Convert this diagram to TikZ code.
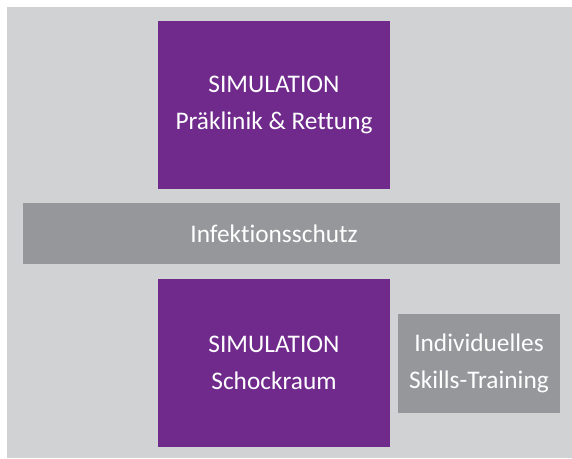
\documentclass[tikz,border=0pt]{standalone}
\usepackage{fontspec}
\setmainfont{Carlito}[Ligatures=NoCommon]
\usepackage{tikz}
\usetikzlibrary{positioning}
\usepackage{xcolor}

\definecolor{panelgray}{RGB}{209,210,212}
\definecolor{bargray}{RGB}{150,151,155}
\definecolor{simpurple}{RGB}{111,42,140}

\begin{document}
\begin{tikzpicture}[
  x=0.75pt, y=-0.75pt,
  boxtext/.style={text=white, align=center, inner sep=0pt, outer sep=0pt,
                  font=\fontsize{19}{27.75}\selectfont},
  simbox/.style={boxtext, fill=simpurple, minimum width=174pt, minimum height=126pt},
  barbox/.style={boxtext, fill=bargray, minimum width=402.75pt, minimum height=45.75pt},
  skillbox/.style={boxtext, fill=bargray, minimum width=121.5pt, minimum height=74.25pt}
]

% Canvas and grey panel
\useasboundingbox (0,0) rectangle (572,458);
\fill[panelgray] (7,7) rectangle (572,458);

% Simulation blocks
\node[simbox] (praeklinik) at (274,105) {SIMULATION\\Präklinik \& Rettung};
\node[simbox, below=67.5pt of praeklinik] (schockraum) {SIMULATION\\Schockraum};

% Cross bar, its label sits on the axis of the purple blocks
\node[barbox] (infektion) at (291.5,233.5) {};
\node[boxtext] (infektlabel) at (praeklinik |- infektion) {Infektionsschutz};

% Side block
\node[skillbox, right=6pt of schockraum] (skills) {Individuelles\\Skills-Training};

\end{tikzpicture}
\end{document}
